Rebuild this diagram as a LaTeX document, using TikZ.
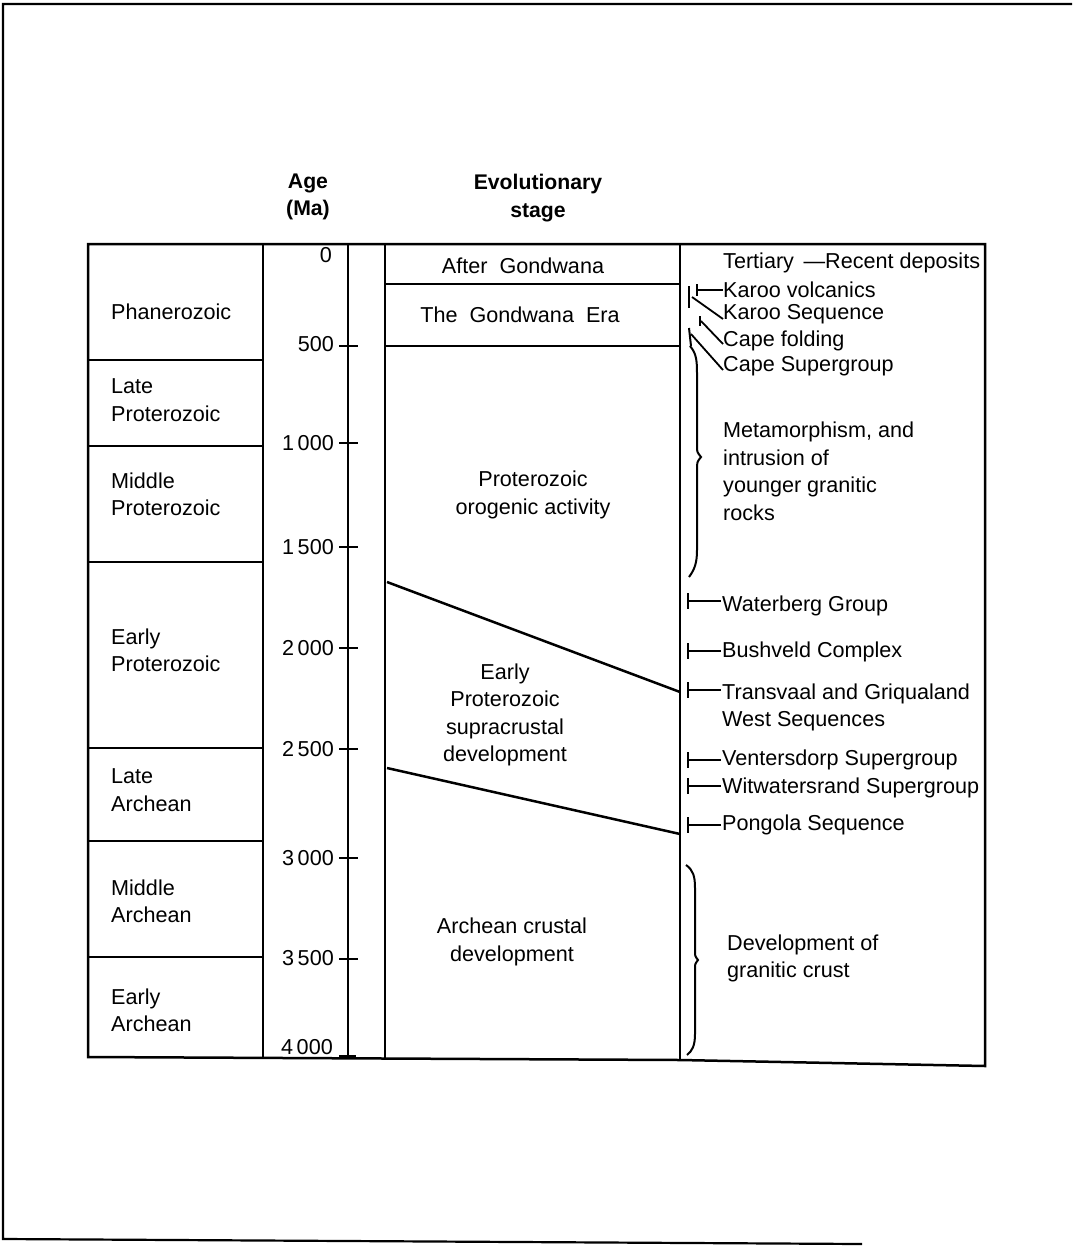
\documentclass[tikz,border=0pt]{standalone}
\usepackage{fontspec}
\setmainfont{Liberation Sans}
\begin{document}
\begin{tikzpicture}[x=1pt,y=-1pt,
  rule/.style={line width=2.5pt},
  txt/.style={inner sep=0pt, font=\fontsize{21.6}{27.5}\selectfont},
  lab/.style={txt, anchor=west, align=left},
  mid/.style={txt, align=center},
  hdr/.style={inner sep=0pt, align=center, font=\fontsize{21.2}{27.5}\selectfont\bfseries},
  agel/.style={txt, anchor=east},
  tickbar/.style={line width=2pt},
  lead/.style={line width=1.8pt},
  brace/.style={line width=2pt},
]
\useasboundingbox (0,0) rectangle (1072,1247);

% page frame
\draw[line width=2.2pt] (1072,4) -- (3,4) -- (3,1239) -- (862,1244);

% headers
\node[hdr] (hage) at (308,197) {Age\\(Ma)};
\node[hdr] (hstage) at (538,198) {Evolutionary\\stage};

% table outline and column rules
\draw[rule] (88,244) -- (985,244) -- (985,1066) -- (680,1060) -- (88,1057) -- cycle;
\draw[rule] (263,244) -- (263,1057);
\draw[rule] (348,244) -- (348,1058);
\draw[rule] (385,244) -- (385,1059);
\draw[rule] (680,244) -- (680,1060);

% era divisions
\foreach \yy in {360,446,562,748,841,957}
  \draw[rule] (88,\yy) -- (263,\yy);

% evolutionary stage divisions
\draw[rule] (385,284) -- (680,284);
\draw[rule] (385,346) -- (680,346);
\draw[rule] (387,582) -- (680,692);
\draw[rule] (387,768) -- (680,834);

% era names
\node[lab] (phan) at (111,312) {Phanerozoic};
\node[lab] (lprot) at (111,400) {Late\\Proterozoic};
\node[lab] (mprot) at (111,494.5) {Middle\\Proterozoic};
\node[lab] (eprot) at (111,650.5) {Early\\Proterozoic};
\node[lab] (larch) at (111,790) {Late\\Archean};
\node[lab] (march) at (111,901.5) {Middle\\Archean};
\node[lab] (earch) at (111,1010.5) {Early\\Archean};

% age scale
\node[agel] (a0) at (332,255) {0};
\foreach \nm/\lbl/\ty/\ly in {a500/500/346/344, a1000/1\,000/443/443, a1500/1\,500/547/547,
    a2000/2\,000/648/648, a2500/2\,500/749/749, a3000/3\,000/858/858, a3500/3\,500/959/958}{
  \node[agel] (\nm) at (334,\ly) {\lbl};
  \draw[tickbar] (339,\ty) -- (358,\ty);
}
\node[agel] (a4000) at (333,1047) {4\,000};
\draw[line width=3pt] (339,1056) -- (356,1056);

% evolutionary stages
\node[mid] (after) at (523,266) {After\ \ Gondwana};
\node[mid] (gond) at (520,315) {The\ \ Gondwana\ \ Era};
\node[mid] (proto) at (533,495) {Proterozoic\\orogenic activity};
\node[mid] (supra) at (505,715) {Early\\Proterozoic\\supracrustal\\development};
\node[mid] (arch) at (512,942) {Archean crustal\\development};

% events
\node[lab] (tert) at (723,263) {Tertiary \,—Recent deposits};
\node[lab] (kvol) at (723,290) {Karoo volcanics};
\node[lab] (kseq) at (723,314) {Karoo Sequence};
\node[lab] (cfold) at (723,341) {Cape folding};
\node[lab] (csup) at (723,366) {Cape Supergroup};
\node[lab] (meta) at (723,471.5) {Metamorphism, and\\intrusion of\\younger granitic\\rocks};
\node[lab] (water) at (722,606) {Waterberg Group};
\node[lab] (bush) at (722,652) {Bushveld Complex};
\node[lab] (trans) at (722,707.5) {Transvaal and Griqualand\\West Sequences};
\node[lab] (vent) at (722,760) {Ventersdorp Supergroup};
\node[lab] (witw) at (722,788) {Witwatersrand Supergroup};
\node[lab] (pong) at (722,825) {Pongola Sequence};
\node[lab] (gran) at (727,958.5) {Development of\\granitic crust};

% leaders to the Karoo and Cape events
\coordinate (kv0) at (697,290);
\draw[tickbar] (697,284) -- (697,296);
\draw[lead] (kv0) -- (kvol.west);
\coordinate (ks0) at (692,297);
\draw[tickbar] (689,286) -- (689,308);
\draw[lead] (ks0) -- ([yshift=-5pt]kseq.west);
\coordinate (cf0) at (701,321);
\draw[tickbar] (700,316) -- (700,326);
\draw[lead] (cf0) -- ([yshift=-3pt]cfold.west);
\coordinate (cs0) at (691,334);
\draw[tickbar] (689,328) -- (691,346);
\draw[lead] (cs0) -- ([yshift=-4pt]csup.west);

% brace for Proterozoic metamorphism
\draw[brace] (690,346) .. controls (697,354) and (697,362) .. (697,376) -- (697,446)
  .. controls (697,452) .. (701,457) .. controls (697,462) .. (697,470) -- (697,550)
  .. controls (697,562) and (695,569) .. (689,577);

% leaders to the Proterozoic and Archean events
\foreach \nm/\yy in {water/601, bush/651, trans/690, vent/760, witw/786, pong/825}{
  \coordinate (\nm0) at (688,\yy);
  \draw[tickbar] (688,\yy-8) -- (688,\yy+8);
  \draw[lead] (\nm0) -- (721,\yy);
}

% brace for the granitic crust
\draw[brace] (686,865) .. controls (693,870) and (695,876) .. (695,888) -- (695,952)
  .. controls (695,956) .. (698,960) .. controls (695,964) .. (695,968) -- (695,1034)
  .. controls (695,1046) and (692,1051) .. (687,1055);

\end{tikzpicture}
\end{document}
